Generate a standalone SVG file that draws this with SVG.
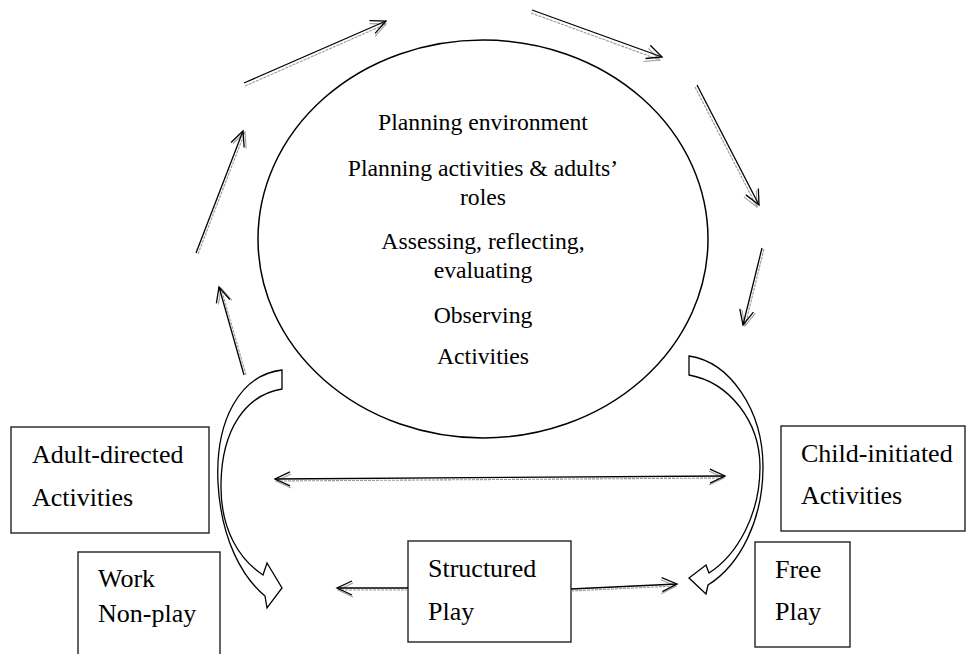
<svg xmlns="http://www.w3.org/2000/svg" width="969" height="654" viewBox="0 0 969 654">
<style>
.bg{fill:#fff}
.ell{fill:#fff;stroke:#000;stroke-width:1.5}
.box{fill:#fff;stroke:#222;stroke-width:1.4}
.t{font-family:"Liberation Serif","Times New Roman",serif;fill:#000}
.te{font-size:23.7px;text-anchor:middle}
.tb{font-size:26px}
.ln{fill:none;stroke:#000;stroke-width:1.3}
.sh{fill:none;stroke:#9a9a9a;stroke-width:1.1;stroke-dasharray:3 1}
.blk{fill:#fff;stroke:#000;stroke-width:1.3;stroke-linejoin:miter}
</style>
<defs>
<marker id="ah" markerUnits="userSpaceOnUse" markerWidth="24" markerHeight="24" viewBox="-18 -12 24 24" refX="0" refY="0" orient="auto-start-reverse" overflow="visible">
<path d="M-15,-7 L0,0 L-15,7" fill="none" stroke="#000" stroke-width="1.3"/>
</marker>
<marker id="ahg" markerUnits="userSpaceOnUse" markerWidth="24" markerHeight="24" viewBox="-18 -12 24 24" refX="0" refY="0" orient="auto-start-reverse" overflow="visible">
<path d="M-15,-7 L0,0 L-15,7" fill="none" stroke="#a0a0a0" stroke-width="1.1"/>
</marker>
</defs>
<rect class="bg" x="0" y="0" width="969" height="654"/>

<g id="cycle">
<ellipse class="ell" cx="483" cy="239" rx="225" ry="199"/>
<text class="t te" x="483" y="130">Planning environment</text>
<text class="t te" x="483" y="176">Planning activities &amp; adults’</text>
<text class="t te" x="483" y="205">roles</text>
<text class="t te" x="483" y="249">Assessing, reflecting,</text>
<text class="t te" x="483" y="278">evaluating</text>
<text class="t te" x="483" y="323">Observing</text>
<text class="t te" x="483" y="364">Activities</text>
</g>

<g id="adult-directed">
<rect class="box" x="11" y="427" width="198" height="106"/>
<text class="t tb" x="32" y="463">Adult-directed</text>
<text class="t tb" x="32" y="506">Activities</text>
</g>

<g id="child-initiated">
<rect class="box" x="781" y="426" width="184" height="105"/>
<text class="t tb" x="801" y="462">Child-initiated</text>
<text class="t tb" x="801" y="504">Activities</text>
</g>

<g id="work-nonplay">
<rect class="box" x="78" y="552" width="142" height="120"/>
<text class="t tb" x="98" y="587">Work</text>
<text class="t tb" x="98" y="622">Non-play</text>
</g>

<g id="structured-play">
<rect class="box" x="408" y="541" width="163" height="101"/>
<text class="t tb" x="428" y="577">Structured</text>
<text class="t tb" x="428" y="620">Play</text>
</g>

<g id="free-play">
<rect class="box" x="755" y="542" width="95" height="105"/>
<text class="t tb" x="775" y="578">Free</text>
<text class="t tb" x="775" y="620">Play</text>
</g>

<g id="connectors">
<!-- cycle arrows: shadow then line -->
<line class="sh" x1="245" y1="86" x2="386" y2="24" marker-end="url(#ahg)"/>
<line class="ln" x1="244" y1="83" x2="386" y2="21" marker-end="url(#ah)"/>

<line class="sh" x1="531" y1="13" x2="660" y2="60" marker-end="url(#ahg)"/>
<line class="ln" x1="532" y1="10" x2="662" y2="57" marker-end="url(#ah)"/>

<line class="sh" x1="695" y1="87" x2="757" y2="207" marker-end="url(#ahg)"/>
<line class="ln" x1="697" y1="85" x2="759" y2="205" marker-end="url(#ah)"/>

<line class="sh" x1="764" y1="249" x2="745" y2="326" marker-end="url(#ahg)"/>
<line class="ln" x1="762" y1="248" x2="743" y2="325" marker-end="url(#ah)"/>

<line class="sh" x1="246" y1="375" x2="221" y2="288" marker-end="url(#ahg)"/>
<line class="ln" x1="244" y1="375" x2="219" y2="287" marker-end="url(#ah)"/>

<line class="sh" x1="198" y1="254" x2="245" y2="132" marker-end="url(#ahg)"/>
<line class="ln" x1="196" y1="253" x2="243" y2="131" marker-end="url(#ah)"/>

<!-- horizontal double arrow -->
<line class="sh" x1="276" y1="481" x2="724" y2="478" marker-start="url(#ahg)" marker-end="url(#ahg)"/>
<line class="ln" x1="275" y1="479" x2="725" y2="476" marker-start="url(#ah)" marker-end="url(#ah)"/>

<!-- structured play arrows -->
<line class="sh" x1="408" y1="590" x2="338" y2="590" marker-end="url(#ahg)"/>
<line class="ln" x1="408" y1="588" x2="337" y2="588" marker-end="url(#ah)"/>
<line class="sh" x1="571" y1="591" x2="676" y2="586" marker-end="url(#ahg)"/>
<line class="ln" x1="571" y1="589" x2="677" y2="584" marker-end="url(#ah)"/>

<!-- curved block arrows -->
<path class="blk" d="M282,370 C240,375 215,420 218,483 C221,540 243,578 265,596 L267,608 L282,588 L267,563 L263,575 C240,560 220,530 221,483 C222,430 245,395 282,389 Z"/>
<path class="blk" d="M689,356 C730,362 763,410 763,467 C763,520 740,565 708,585 L706,594 L689,578 L706,565 L709,573 C737,555 760,515 760,467 C760,420 728,382 689,375 Z"/>
</g>
</svg>
